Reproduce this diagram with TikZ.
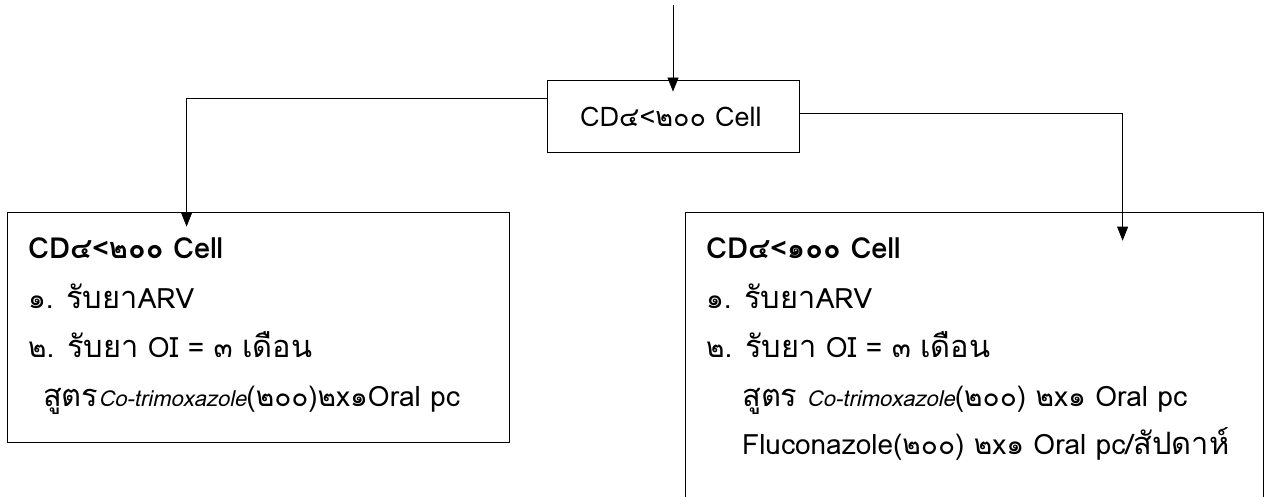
\documentclass[tikz,border=0pt]{standalone}
\usepackage{fontspec}
\setmainfont[Script=Thai]{Loma}
\newfontfamily\thaiwords[Script=Thai,Scale=1.1]{Loma}
\usetikzlibrary{arrows.meta,positioning,calc}

\newcommand{\drugname}[1]{{\itshape\fontsize{22}{25}\selectfont #1}}
\newcommand{\thw}[1]{{\thaiwords #1}}

\begin{document}
\begin{tikzpicture}[x=1pt, y=-1pt,
  boxnode/.style={draw=black, line width=0.8pt, inner sep=0pt},
  linetext/.style={anchor=base west, inner sep=0pt, font=\fontsize{28}{31}\selectfont},
  headtext/.style={linetext, font=\fontsize{29}{32}\selectfont\bfseries},
  conn/.style={-{Triangle[length=14pt,width=11pt]}, line width=0.8pt}]

\useasboundingbox (0,0) rectangle (1265,497);
\clip (0,0) rectangle (1265,497);

% Boxes
\node[boxnode, minimum width=252pt, minimum height=72pt] (cdtop) at (673,116) {};
\node[boxnode, minimum width=502pt, minimum height=230pt] (cdleft) at (258,327) {};
\node[boxnode, minimum width=578pt, minimum height=330pt] (cdright) at (974,377) {};

% Top box text
\node[linetext, anchor=base, font=\fontsize{27}{30}\selectfont] (toptext) at (671,127) {CD๔<๒๐๐ Cell};

% Left box text
\node[headtext] (left1) at (28,258) {CD๔<๒๐๐ Cell};
\node[linetext] (left2) at (28,308) {๑. \thw{รับยา}ARV};
\node[linetext] (left3) at (28,357) {๒. \thw{รับยา} OI = ๓ \thw{เดือน}};
\node[linetext] (left4) at (43,406) {\thw{สูตร}\drugname{Co-trimoxazole}(๒๐๐)๒x๑Oral pc};

% Right box text
\node[headtext] (right1) at (706,258) {CD๔<๑๐๐ Cell};
\node[linetext] (right2) at (706,308) {๑. \thw{รับยา}ARV};
\node[linetext] (right3) at (706,357) {๒. \thw{รับยา} OI = ๓ \thw{เดือน}};
\node[linetext] (right4) at (742,406) {\thw{สูตร} \drugname{Co-trimoxazole}(๒๐๐) ๒x๑ Oral pc};
\node[linetext] (right5) at (742,454) {Fluconazole(๒๐๐) ๒x๑ Oral pc/\thw{สัปดาห์}};

% Connectors
\coordinate (entry) at (673,5);
\draw[conn, shorten >=-12pt] (entry) -- (cdtop.north);
\draw[conn, shorten >=-15pt] ($(cdtop.west)+(0,-18)$) -| ($(cdleft.north west)+(180,0)$);
\draw[conn, shorten >=-29pt] ($(cdtop.east)+(0,-3)$) -| ($(cdright.north west)+(438,0)$);

\end{tikzpicture}
\end{document}
